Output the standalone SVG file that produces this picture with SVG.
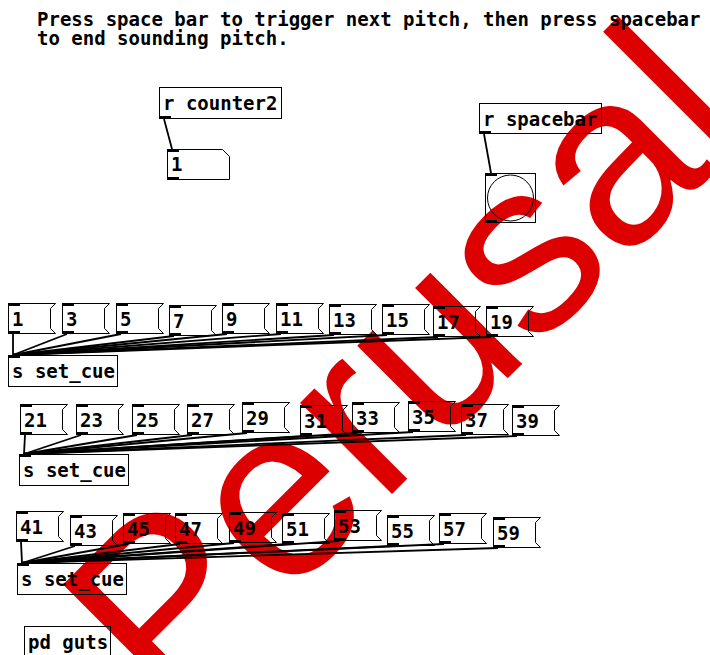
<svg xmlns="http://www.w3.org/2000/svg" width="710" height="655" viewBox="0 0 710 655">
<style>
text{font-family:"DejaVu Sans Mono","Liberation Mono",monospace;font-weight:bold;font-size:19px;fill:#000}
.box{fill:none;stroke:#000;stroke-width:1}
.io{fill:#000}
.cn{stroke:#000;stroke-width:1.8;fill:none}
.wm{font-family:"Liberation Sans",Arial,sans-serif;font-weight:normal;font-size:245px;fill:#dd0000}
</style>
<defs>
<path id="msgshape" class="box" d="M0.5 0.5H47.5L42.5 5.5V25.5L47.5 30.5H0.5Z"/>
<g id="msgio"><rect class="io" x="0" y="0" width="12" height="3"/><rect class="io" x="0" y="28" width="12" height="3"/></g>
</defs>
<g id="watermark"><text class="wm" transform="translate(168,718) rotate(-45)">Perusal</text></g>
<g id="comment">
<text x="37" y="26">Press space bar to trigger next pitch, then press spacebar</text>
<text x="37" y="45">to end sounding pitch.</text>
</g>
<g id="connectors">
<line class="cn" x1="164" y1="119" x2="172" y2="149"/>
<line class="cn" x1="484" y1="134" x2="491" y2="173"/>
<line class="cn" x1="13" y1="334" x2="13" y2="355"/>
<line class="cn" x1="67" y1="334" x2="13" y2="355"/>
<line class="cn" x1="121" y1="334" x2="13" y2="355"/>
<line class="cn" x1="174" y1="336" x2="13" y2="355"/>
<line class="cn" x1="227" y1="334" x2="13" y2="355"/>
<line class="cn" x1="281" y1="334" x2="13" y2="355"/>
<line class="cn" x1="334" y1="335" x2="13" y2="355"/>
<line class="cn" x1="387" y1="335" x2="13" y2="355"/>
<line class="cn" x1="438" y1="337" x2="13" y2="355"/>
<line class="cn" x1="491" y1="337" x2="13" y2="355"/>
<line class="cn" x1="25" y1="435" x2="24" y2="454"/>
<line class="cn" x1="81" y1="435" x2="24" y2="454"/>
<line class="cn" x1="137" y1="435" x2="24" y2="454"/>
<line class="cn" x1="192" y1="435" x2="24" y2="454"/>
<line class="cn" x1="247" y1="433" x2="24" y2="454"/>
<line class="cn" x1="305" y1="436" x2="24" y2="454"/>
<line class="cn" x1="357" y1="433" x2="24" y2="454"/>
<line class="cn" x1="413" y1="432" x2="24" y2="454"/>
<line class="cn" x1="466" y1="435" x2="24" y2="454"/>
<line class="cn" x1="517" y1="436" x2="24" y2="454"/>
<line class="cn" x1="21" y1="542" x2="22" y2="563"/>
<line class="cn" x1="75" y1="546" x2="22" y2="563"/>
<line class="cn" x1="128" y1="544" x2="22" y2="563"/>
<line class="cn" x1="180" y1="544" x2="22" y2="563"/>
<line class="cn" x1="234" y1="543" x2="22" y2="563"/>
<line class="cn" x1="287" y1="544" x2="22" y2="563"/>
<line class="cn" x1="339" y1="541" x2="22" y2="563"/>
<line class="cn" x1="392" y1="546" x2="22" y2="563"/>
<line class="cn" x1="444" y1="544" x2="22" y2="563"/>
<line class="cn" x1="498" y1="548" x2="22" y2="563"/>
</g>
<g id="r_counter2" transform="translate(159,87)"><rect class="box" x="0.5" y="0.5" width="122" height="31"/><rect class="io" x="0" y="29" width="12" height="3"/><text x="4" y="23">r counter2</text></g>
<g id="numbox" transform="translate(167,149)"><path class="box" d="M0.5 0.5H55.5L62.5 7.5V30.5H0.5Z"/><rect class="io" x="0" y="0" width="12" height="3"/><rect class="io" x="0" y="28" width="12" height="3"/><text x="4" y="22">1</text></g>
<g id="r_spacebar" transform="translate(479,103)"><rect class="box" x="0.5" y="0.5" width="122" height="30"/><rect class="io" x="0" y="28" width="12" height="3"/><text x="4" y="23">r spacebar</text></g>
<g id="bang" transform="translate(485,173)"><rect class="box" x="0.5" y="0.5" width="50" height="49"/><circle class="box" cx="25.5" cy="25" r="23"/><rect class="io" x="0" y="0" width="12" height="3"/><rect class="io" x="0" y="47" width="12" height="3"/></g>
<g id="m1" transform="translate(8,303)"><use href="#msgshape"/><use href="#msgio"/><text x="4" y="23">1</text></g>
<g id="m3" transform="translate(62,303)"><use href="#msgshape"/><use href="#msgio"/><text x="4" y="23">3</text></g>
<g id="m5" transform="translate(116,303)"><use href="#msgshape"/><use href="#msgio"/><text x="4" y="23">5</text></g>
<g id="m7" transform="translate(169,305)"><use href="#msgshape"/><use href="#msgio"/><text x="4" y="23">7</text></g>
<g id="m9" transform="translate(222,303)"><use href="#msgshape"/><use href="#msgio"/><text x="4" y="23">9</text></g>
<g id="m11" transform="translate(276,303)"><use href="#msgshape"/><use href="#msgio"/><text x="4" y="23">11</text></g>
<g id="m13" transform="translate(329,304)"><use href="#msgshape"/><use href="#msgio"/><text x="4" y="23">13</text></g>
<g id="m15" transform="translate(382,304)"><use href="#msgshape"/><use href="#msgio"/><text x="4" y="23">15</text></g>
<g id="m17" transform="translate(433,306)"><use href="#msgshape"/><use href="#msgio"/><text x="4" y="23">17</text></g>
<g id="m19" transform="translate(486,306)"><use href="#msgshape"/><use href="#msgio"/><text x="4" y="23">19</text></g>
<g id="send1" transform="translate(8,355)"><rect class="box" x="0.5" y="0.5" width="109" height="31"/><rect class="io" x="0" y="0" width="12" height="3"/><text x="4" y="23">s set_cue</text></g>
<g id="m21" transform="translate(20,404)"><use href="#msgshape"/><use href="#msgio"/><text x="4" y="23">21</text></g>
<g id="m23" transform="translate(76,404)"><use href="#msgshape"/><use href="#msgio"/><text x="4" y="23">23</text></g>
<g id="m25" transform="translate(132,404)"><use href="#msgshape"/><use href="#msgio"/><text x="4" y="23">25</text></g>
<g id="m27" transform="translate(187,404)"><use href="#msgshape"/><use href="#msgio"/><text x="4" y="23">27</text></g>
<g id="m29" transform="translate(242,402)"><use href="#msgshape"/><use href="#msgio"/><text x="4" y="23">29</text></g>
<g id="m31" transform="translate(300,405)"><use href="#msgshape"/><use href="#msgio"/><text x="4" y="23">31</text></g>
<g id="m33" transform="translate(352,402)"><use href="#msgshape"/><use href="#msgio"/><text x="4" y="23">33</text></g>
<g id="m35" transform="translate(408,401)"><use href="#msgshape"/><use href="#msgio"/><text x="4" y="23">35</text></g>
<g id="m37" transform="translate(461,404)"><use href="#msgshape"/><use href="#msgio"/><text x="4" y="23">37</text></g>
<g id="m39" transform="translate(512,405)"><use href="#msgshape"/><use href="#msgio"/><text x="4" y="23">39</text></g>
<g id="send2" transform="translate(19,454)"><rect class="box" x="0.5" y="0.5" width="109" height="31"/><rect class="io" x="0" y="0" width="12" height="3"/><text x="4" y="23">s set_cue</text></g>
<g id="m41" transform="translate(16,511)"><use href="#msgshape"/><use href="#msgio"/><text x="4" y="23">41</text></g>
<g id="m43" transform="translate(70,515)"><use href="#msgshape"/><use href="#msgio"/><text x="4" y="23">43</text></g>
<g id="m45" transform="translate(123,513)"><use href="#msgshape"/><use href="#msgio"/><text x="4" y="23">45</text></g>
<g id="m47" transform="translate(175,513)"><use href="#msgshape"/><use href="#msgio"/><text x="4" y="23">47</text></g>
<g id="m49" transform="translate(229,512)"><use href="#msgshape"/><use href="#msgio"/><text x="4" y="23">49</text></g>
<g id="m51" transform="translate(282,513)"><use href="#msgshape"/><use href="#msgio"/><text x="4" y="23">51</text></g>
<g id="m53" transform="translate(334,510)"><use href="#msgshape"/><use href="#msgio"/><text x="4" y="23">53</text></g>
<g id="m55" transform="translate(387,515)"><use href="#msgshape"/><use href="#msgio"/><text x="4" y="23">55</text></g>
<g id="m57" transform="translate(439,513)"><use href="#msgshape"/><use href="#msgio"/><text x="4" y="23">57</text></g>
<g id="m59" transform="translate(493,517)"><use href="#msgshape"/><use href="#msgio"/><text x="4" y="23">59</text></g>
<g id="send3" transform="translate(17,563)"><rect class="box" x="0.5" y="0.5" width="109" height="31"/><rect class="io" x="0" y="0" width="12" height="3"/><text x="4" y="23">s set_cue</text></g>
<g id="pd_guts" transform="translate(24,626)"><rect class="box" x="0.5" y="0.5" width="86" height="31"/><text x="4" y="23">pd guts</text></g>
</svg>
